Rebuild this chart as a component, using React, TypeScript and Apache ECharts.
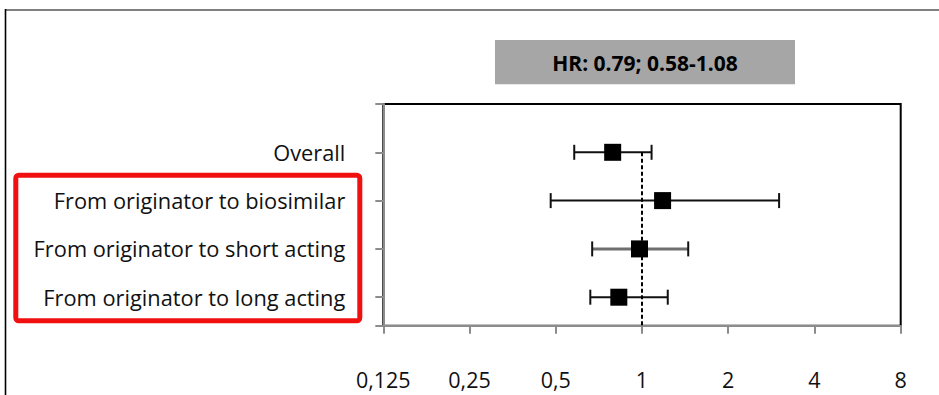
import React, { useEffect, useRef } from "react";
import * as echarts from "echarts";

const categories = [
  "Overall",
  "From originator to biosimilar",
  "From originator to short acting",
  "From originator to long acting",
];
const rowPositions = [4, 3, 2, 1];
const hazardRatios = [0.79, 1.18, 0.98, 0.83];
const lowerCI = [0.58, 0.48, 0.67, 0.66];
const upperCI = [1.08, 3.01, 1.45, 1.23];
const barColors = ["#111111", "#111111", "#6f6f6f", "#111111"];
const barWidths = [2, 2, 3, 2];
const xTickLabels: Record<string, string> = {
  "0.125": "0,125",
  "0.25": "0,25",
  "0.5": "0,5",
  "1": "1",
  "2": "2",
  "4": "4",
  "8": "8",
};
const summaryText = "HR: 0.79; 0.58-1.08";
const referenceHR = 1;

const FONT = "Open Sans";
const Y_MIN = 0.41;
const Y_MAX = 5;

export default function App() {
  const ref = useRef<HTMLDivElement>(null);
  useEffect(() => {
    const chart = echarts.init(ref.current!, null, { renderer: "svg" });
    const errData = categories.map((_, i) => [lowerCI[i], upperCI[i], rowPositions[i], i]);
    const pointData = categories.map((_, i) => [hazardRatios[i], rowPositions[i]]);
    const option: any = {
      animation: false,
      backgroundColor: "#fff",
      grid: {
        left: 383.3,
        right: 38.3,
        top: 104,
        bottom: 69.3,
        show: true,
        borderColor: "#000",
        borderWidth: 2,
        backgroundColor: "transparent",
      },
      xAxis: {
        type: "log",
        logBase: 2,
        min: 0.125,
        max: 8,
        axisLine: { show: true, lineStyle: { color: "#8c8c8c", width: 2 } },
        axisTick: { show: true, length: 8, lineStyle: { color: "#8c8c8c", width: 2 } },
        splitLine: { show: false },
        minorTick: { show: false },
        axisLabel: {
          margin: 43,
          fontFamily: FONT,
          fontSize: 21.5,
          color: "#111",
          formatter: (v: number) => xTickLabels[String(v)] ?? String(v).replace(".", ","),
        },
      },
      yAxis: {
        type: "value",
        min: Y_MIN,
        max: Y_MAX,
        axisLine: { show: true, lineStyle: { color: "#8c8c8c", width: 2 } },
        axisTick: {
          show: true,
          length: 8,
          customValues: [Y_MIN, ...rowPositions, Y_MAX],
          lineStyle: { color: "#8c8c8c", width: 2 },
        },
        splitLine: { show: false },
        axisLabel: {
          margin: 38,
          fontFamily: FONT,
          fontSize: 21.8,
          color: "#111",
          customValues: rowPositions,
          formatter: (v: number) => {
            const idx = rowPositions.indexOf(Math.round(v));
            return idx >= 0 ? categories[idx] : "";
          },
        },
      },
      graphic: [
        {
          type: "line",
          shape: { x1: 5, y1: 10, x2: 939, y2: 10 },
          style: { stroke: "#808080", lineWidth: 2 },
        },
        {
          type: "line",
          shape: { x1: 5.5, y1: 9, x2: 5.5, y2: 395 },
          style: { stroke: "#000", lineWidth: 1.6 },
        },
        {
          type: "rect",
          shape: { x: 495, y: 40, width: 300, height: 44.3 },
          style: { fill: "#a6a6a6" },
        },
        {
          type: "text",
          x: 645,
          y: 62.5,
          style: {
            text: summaryText,
            fill: "#000",
            font: `bold 21px "${FONT}"`,
            align: "center",
            verticalAlign: "middle",
          },
        },
        {
          type: "rect",
          shape: { x: 15.8, y: 175.2, width: 344, height: 145.6, r: 3 },
          style: { fill: "none", stroke: "#f01010", lineWidth: 5 },
        },
      ],
      series: [
        {
          type: "custom",
          z: 2,
          data: errData,
          renderItem: (params: any, api: any) => {
            const lo = api.coord([api.value(0), api.value(2)]);
            const hi = api.coord([api.value(1), api.value(2)]);
            const i = api.value(3);
            const cap = 7.5;
            const style = { stroke: barColors[i], lineWidth: barWidths[i] };
            const capStyle = { stroke: "#111", lineWidth: 2 };
            return {
              type: "group",
              children: [
                { type: "line", shape: { x1: lo[0], y1: lo[1], x2: hi[0], y2: hi[1] }, style },
                { type: "line", shape: { x1: lo[0], y1: lo[1] - cap, x2: lo[0], y2: lo[1] + cap }, style: capStyle },
                { type: "line", shape: { x1: hi[0], y1: hi[1] - cap, x2: hi[0], y2: hi[1] + cap }, style: capStyle },
              ],
            };
          },
        },
        {
          type: "line",
          z: 3,
          data: [
            [referenceHR, rowPositions[0]],
            [referenceHR, Y_MIN],
          ],
          symbol: "none",
          lineStyle: { color: "#000", width: 2, type: [4, 2.5] },
        },
        {
          type: "scatter",
          z: 4,
          data: pointData,
          symbol: "rect",
          symbolSize: 17,
          itemStyle: { color: "#000", opacity: 1 },
        },
      ],
    };
    chart.setOption(option);
    return () => chart.dispose();
  }, []);
  return (
    <div
      ref={ref}
      style={{ position: "absolute", left: 0, top: 0, width: 939, height: 395 }}
    />
  );
}
